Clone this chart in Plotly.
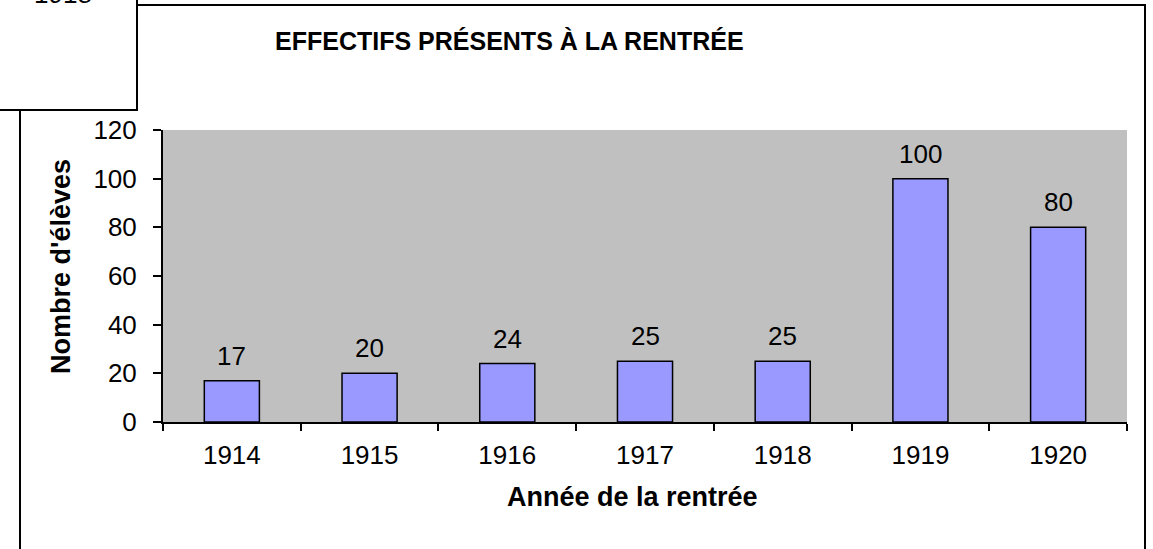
import plotly.graph_objects as go

years = ["1914", "1915", "1916", "1917", "1918", "1919", "1920"]
effectifs = [17, 20, 24, 25, 25, 100, 80]
y_ticks = [0, 20, 40, 60, 80, 100, 120]
title_text = "EFFECTIFS PRÉSENTS À LA RENTRÉE"
x_title = "Année de la rentrée"
y_title = "Nombre d'élèves"
corner_text = "1918"

W, H = 1153, 549
L, R, T, B = 163, 1127, 130, 422
FONT = "Liberation Sans, Arial, sans-serif"


def px(x):
    return (x - L) / (R - L)


def py(y):
    return (B - y) / (B - T)


fig = go.Figure()
fig.add_trace(go.Bar(
    x=years, y=effectifs,
    marker=dict(color="#9999FF", line=dict(color="black", width=1.5)),
    width=0.4,
))

for i, v in enumerate(effectifs):
    fig.add_annotation(x=i, y=v, text=str(v), showarrow=False,
                       xanchor="center", yanchor="bottom", yshift=8,
                       font=dict(family=FONT, size=26, color="black"))

# Outer frame
fig.add_shape(type="rect", xref="paper", yref="paper",
              x0=px(20), x1=px(1145), y0=py(570), y1=py(5),
              line=dict(color="black", width=2), fillcolor="rgba(0,0,0,0)",
              layer="below")
# Corner box
fig.add_shape(type="rect", xref="paper", yref="paper",
              x0=px(-10), x1=px(137), y0=py(110), y1=py(-10),
              line=dict(color="black", width=2), fillcolor="white",
              layer="below")
fig.add_annotation(xref="paper", yref="paper", x=px(63), y=py(-6),
                   text=corner_text, showarrow=False,
                   xanchor="center", yanchor="middle",
                   font=dict(family=FONT, size=26, color="black"))

fig.add_annotation(xref="paper", yref="paper", x=px(509), y=py(41),
                   text="<b>" + title_text + "</b>", showarrow=False,
                   yanchor="middle", xanchor="center",
                   font=dict(family=FONT, size=25, color="black"))
fig.add_annotation(xref="paper", yref="paper", x=px(632), y=py(497),
                   text="<b>" + x_title + "</b>", showarrow=False,
                   yanchor="middle", xanchor="center",
                   font=dict(family=FONT, size=27, color="black"))
fig.add_annotation(xref="paper", yref="paper", x=px(61), y=py(267),
                   text="<b>" + y_title + "</b>", showarrow=False,
                   textangle=-90, yanchor="middle", xanchor="center",
                   font=dict(family=FONT, size=27, color="black"))

fig.update_layout(
    width=W, height=H,
    margin=dict(l=L, r=W - R, t=T, b=H - B),
    paper_bgcolor="white",
    plot_bgcolor="#C0C0C0",
    showlegend=False,
    bargap=0.6,
    font=dict(family=FONT, size=26, color="black"),
)
fig.update_xaxes(
    type="category", range=[-0.5, len(years) - 0.5],
    showline=True, linecolor="black", linewidth=2,
    ticks="outside", tickson="boundaries", ticklen=7, tickwidth=2,
    tickcolor="black", showgrid=False, ticklabelstandoff=9,
    tickfont=dict(family=FONT, size=26, color="black"),
)
fig.update_yaxes(
    range=[0, 120], tickvals=y_ticks, showline=True, linecolor="black",
    linewidth=2, ticks="outside", ticklen=8, tickwidth=2, tickcolor="black",
    showgrid=False, zeroline=False, ticklabelstandoff=11,
    tickfont=dict(family=FONT, size=26, color="black"),
)

fig.write_html("out.html", config={"displayModeBar": False},
               post_script="document.body.style.margin='0';")
